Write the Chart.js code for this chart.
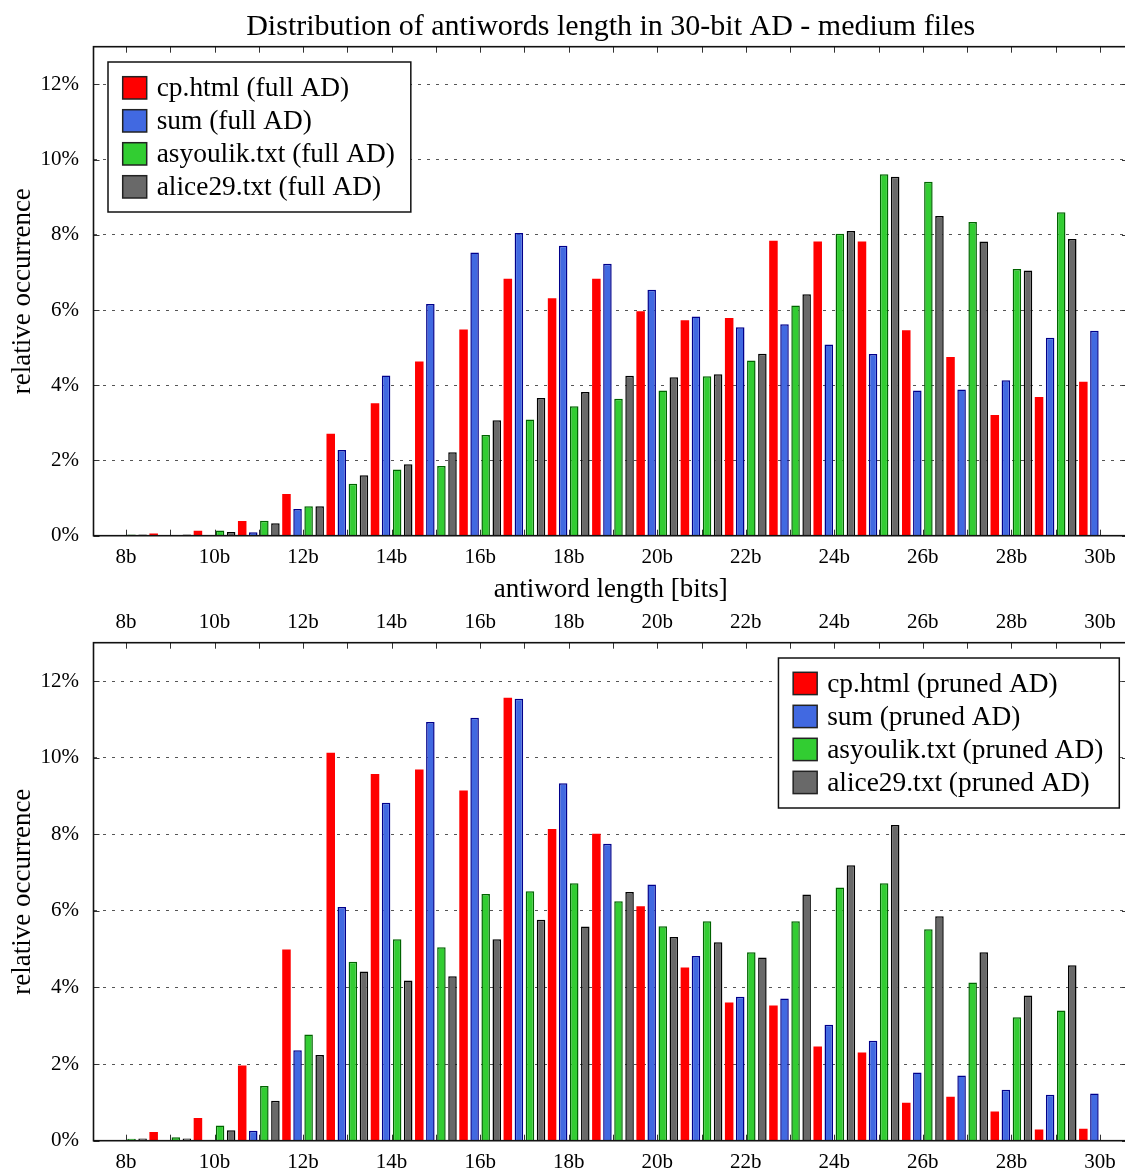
<!DOCTYPE html>
<html>
<head>
<meta charset="utf-8">
<title>Distribution of antiwords length in 30-bit AD - medium files</title>
<script src="https://cdn.jsdelivr.net/npm/chart.js@4/dist/chart.umd.min.js"></script>
<style>
  html, body { margin: 0; padding: 0; background: #fff; overflow: hidden; width: 1125px; height: 1173px; }
  .panel { position: absolute; left: 0; }
  #panelFull { top: 0; }
  #panelPruned { top: 600px; }
</style>
</head>
<body>
<div class="panel" id="panelFull"><canvas id="fullChart" width="1140" height="610"></canvas></div>
<div class="panel" id="panelPruned"><canvas id="prunedChart" width="1140" height="573"></canvas></div>
<script>
// Antiword lengths in bits
const bits = [7, 8, 9, 10, 11, 12, 13, 14, 15, 16, 17, 18, 19, 20, 21, 22, 23, 24, 25, 26, 27, 28, 29, 30];

// Relative occurrence (%) per length, full antidictionary
const fullCpHtml   = [null, null, 0.06, 0.13, 0.39, 1.11, 2.71, 3.52, 4.63, 5.48, 6.83, 6.31, 6.83, 5.97, 5.73, 5.79, 7.84, 7.82, 7.82, 5.46, 4.75, 3.21, 3.69, 4.09];
const fullSum      = [null, null, null, 0.01, 0.09, 0.71, 2.28, 4.26, 6.16, 7.53, 8.05, 7.71, 7.23, 6.54, 5.83, 5.54, 5.62, 5.08, 4.83, 3.86, 3.89, 4.13, 5.26, 5.45];
const fullAsyoulik = [null, 0.03, 0.02, 0.14, 0.40, 0.78, 1.38, 1.76, 1.85, 2.68, 3.09, 3.44, 3.64, 3.86, 4.24, 4.66, 6.12, 8.03, 9.61, 9.41, 8.34, 7.09, 8.60, null];
const fullAlice29  = [0.01, 0.03, 0.03, 0.10, 0.33, 0.78, 1.61, 1.90, 2.22, 3.07, 3.66, 3.82, 4.25, 4.21, 4.29, 4.84, 6.42, 8.10, 9.54, 8.50, 7.82, 7.05, 7.89, null];

// Relative occurrence (%) per length, pruned antidictionary
const prunedCpHtml   = [null, null, 0.23, 0.59, 1.96, 4.99, 10.13, 9.57, 9.69, 9.14, 11.56, 8.14, 8.01, 6.12, 4.52, 3.61, 3.53, 2.46, 2.30, 0.99, 1.15, 0.76, 0.29, 0.31];
const prunedSum      = [null, null, null, null, 0.26, 2.36, 6.10, 8.82, 10.93, 11.04, 11.54, 9.33, 7.75, 6.69, 4.82, 3.76, 3.71, 3.03, 2.61, 1.78, 1.70, 1.33, 1.20, 1.23];
const prunedAsyoulik = [null, 0.05, 0.09, 0.40, 1.43, 2.77, 4.67, 5.26, 5.05, 6.44, 6.51, 6.72, 6.25, 5.60, 5.73, 4.92, 5.73, 6.61, 6.72, 5.52, 4.13, 3.22, 3.40, null];
const prunedAlice29  = [0.01, 0.06, 0.06, 0.27, 1.04, 2.24, 4.42, 4.18, 4.29, 5.26, 5.77, 5.59, 6.49, 5.32, 5.18, 4.78, 6.43, 7.19, 8.24, 5.86, 4.92, 3.79, 4.58, null];

// Series names and the axis texts
const fileNames = ['cp.html', 'sum', 'asyoulik.txt', 'alice29.txt'];
const chartTitle = 'Distribution of antiwords length in 30-bit AD - medium files';
const xTitle = 'antiword length [bits]';
const yTitle = 'relative occurrence';

const SERIF = "'Liberation Serif', 'Times New Roman', Times, serif";
const X_MIN = 7.266, X_MAX = 30.634;
const Y_MAX = 13;

const seriesStyle = [
  { fill: '#ff0000', edge: '#ff0000', width: 0 },
  { fill: '#4169e1', edge: '#00008b', width: 1.5 },
  { fill: '#32cd32', edge: '#006400', width: 1.5 },
  { fill: '#696969', edge: '#000000', width: 1.5 }
];

Chart.defaults.color = '#000';
Chart.defaults.font.family = SERIF;

function makeDatasets(seriesList, suffix) {
  return seriesList.map((vals, k) => ({
    label: fileNames[k] + ' (' + suffix + ')',
    data: bits.map((b, i) => ({ x: b, y: vals[i] })),
    backgroundColor: seriesStyle[k].fill,
    borderColor: seriesStyle[k].edge,
    borderWidth: seriesStyle[k].width,
    categoryPercentage: 1.0,
    barPercentage: 0.77
  }));
}

// Inward tick marks on all four sides plus the plot frame
const frameTicks = {
  id: 'frameTicks',
  afterDatasetsDraw(chart) {
    const { ctx, chartArea: a, scales } = chart;
    const len = 6;
    ctx.save();
    ctx.strokeStyle = '#333';
    ctx.lineWidth = 1;
    ctx.beginPath();
    scales.x.ticks.forEach(t => {
      const px = Math.round(scales.x.getPixelForValue(t.value)) + 0.5;
      ctx.moveTo(px, a.top); ctx.lineTo(px, a.top + len);
      ctx.moveTo(px, a.bottom); ctx.lineTo(px, a.bottom - len);
    });
    scales.y.ticks.forEach(t => {
      const py = Math.round(scales.y.getPixelForValue(t.value)) + 0.5;
      ctx.moveTo(a.left, py); ctx.lineTo(a.left + len, py);
      ctx.moveTo(a.right, py); ctx.lineTo(a.right - len, py);
    });
    ctx.stroke();
    ctx.lineWidth = 1.6;
    ctx.strokeStyle = '#111';
    ctx.strokeRect(a.left, a.top, a.right - a.left, a.bottom - a.top);
    ctx.restore();
  }
};

// Boxed key drawn inside the plot area
const boxLegend = {
  id: 'boxLegend',
  afterDraw(chart, args, o) {
    const ctx = chart.ctx;
    const sets = chart.data.datasets;
    ctx.save();
    ctx.font = o.fontSize + 'px ' + SERIF;
    const textW = Math.max(...sets.map(d => ctx.measureText(d.label).width));
    const w = o.padLeft + o.swatchW + o.gap + textW + o.padRight;
    const left = o.anchor === 'right' ? o.x - w : o.x;
    const top = o.y;
    ctx.fillStyle = '#fff';
    ctx.fillRect(left, top, w, o.height);
    ctx.lineWidth = 1.5;
    ctx.strokeStyle = '#111';
    ctx.strokeRect(left, top, w, o.height);
    sets.forEach((d, i) => {
      const sx = left + o.padLeft;
      const sy = top + o.padTop + i * o.rowH;
      ctx.fillStyle = d.backgroundColor;
      ctx.fillRect(sx, sy, o.swatchW, o.swatchH);
      ctx.lineWidth = 1.5;
      ctx.strokeStyle = '#222';
      ctx.strokeRect(sx, sy, o.swatchW, o.swatchH);
      ctx.fillStyle = '#000';
      ctx.textAlign = 'left';
      ctx.textBaseline = 'middle';
      ctx.fillText(d.label, sx + o.swatchW + o.gap, sy + o.swatchH / 2 + 1);
    });
    ctx.restore();
  }
};

const tickFont = { family: SERIF, size: 21 };
const labelFont = { family: SERIF, size: 27 };

function xScale(position, height, pad, withTitle) {
  const s = {
    type: 'linear',
    position: position,
    min: X_MIN,
    max: X_MAX,
    offset: false,
    grid: { display: false, drawTicks: false },
    border: { display: false },
    ticks: {
      stepSize: 1,
      includeBounds: false,
      autoSkip: false,
      maxRotation: 0,
      minRotation: 0,
      maxTicksLimit: 100,
      padding: pad,
      color: '#000',
      font: tickFont,
      callback: v => (v % 2 === 0 ? v + 'b' : '')
    },
    afterFit: sc => { sc.height = height; }
  };
  if (withTitle) {
    s.title = { display: true, text: xTitle, font: labelFont, color: '#000', padding: { top: 0, bottom: 3.8 } };
  }
  return s;
}

function yScale() {
  return {
    type: 'linear',
    position: 'left',
    min: 0,
    max: Y_MAX,
    grid: {
      color: c => (c.tick && c.tick.value === 0 ? 'rgba(0,0,0,0)' : '#555'),
      lineWidth: 1,
      drawTicks: false
    },
    border: { display: false, dash: [3, 6] },
    ticks: {
      stepSize: 2,
      includeBounds: false,
      padding: 14.5,
      color: '#000',
      font: tickFont,
      callback: v => v + '%'
    },
    title: { display: true, text: yTitle, font: labelFont, color: '#000', padding: { top: 6.4, bottom: 0 } },
    afterFit: sc => { sc.width = 93.5; }
  };
}

const legendCommon = { fontSize: 27.4, padLeft: 14.7, swatchW: 24, swatchH: 22.3, gap: 10, padRight: 16, rowH: 33, height: 150 };

new Chart(document.getElementById('fullChart'), {
  type: 'bar',
  data: { datasets: makeDatasets([fullCpHtml, fullSum, fullAsyoulik, fullAlice29], 'full AD') },
  options: {
    responsive: false,
    animation: false,
    layout: { padding: { left: 0, right: 12, top: 0, bottom: 0 } },
    scales: {
      x: xScale('bottom', 74.3, 8.7, true),
      y: yScale()
    },
    plugins: {
      legend: { display: false },
      tooltip: { enabled: false },
      title: {
        display: true,
        fullSize: false,
        text: chartTitle,
        color: '#000',
        font: { family: SERIF, size: 30, weight: 'normal' },
        padding: { top: 9, bottom: 1.7 }
      },
      boxLegend: Object.assign({ anchor: 'left', x: 108, y: 62, padTop: 14.7 }, legendCommon)
    }
  },
  plugins: [frameTicks, boxLegend]
});

new Chart(document.getElementById('prunedChart'), {
  type: 'bar',
  data: { datasets: makeDatasets([prunedCpHtml, prunedSum, prunedAsyoulik, prunedAlice29], 'pruned AD') },
  options: {
    responsive: false,
    animation: false,
    layout: { padding: { left: 0, right: 12, top: 0, bottom: 0 } },
    scales: {
      x: xScale('bottom', 32.3, 8.7, false),
      x2: xScale('top', 42.7, 8.1, false),
      y: yScale()
    },
    plugins: {
      legend: { display: false },
      tooltip: { enabled: false },
      title: { display: false },
      boxLegend: Object.assign({ anchor: 'right', x: 1119.3, y: 58, padTop: 14.3 }, legendCommon)
    }
  },
  plugins: [frameTicks, boxLegend]
});
</script>
</body>
</html>
